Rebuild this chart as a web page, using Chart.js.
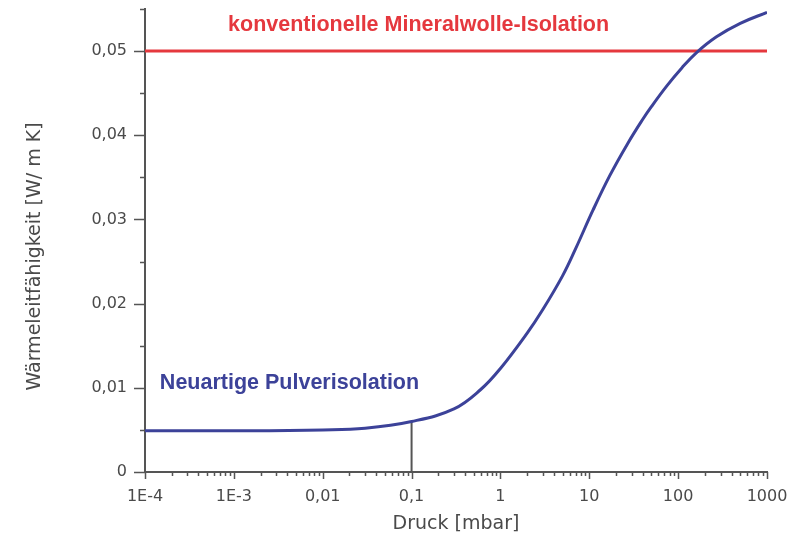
<!DOCTYPE html>
<html lang="de">
<head>
<meta charset="utf-8">
<title>Wärmeleitfähigkeit über Druck</title>
<script src="https://cdn.jsdelivr.net/npm/chart.js@4.4.1/dist/chart.umd.min.js"></script>
<style>
  html, body { margin: 0; padding: 0; background: #fff; }
  #wrap { width: 801px; height: 545px; }
</style>
</head>
<body>
<div id="wrap"><canvas id="myChart"></canvas></div>
<script>
// pressure in mbar and thermal conductivity in W/mK
const druck = [1e-4, 1e-3, 0.01, 0.03, 0.1, 0.3, 0.6, 1, 2, 3, 5, 7, 11, 17, 27, 40, 50, 75, 110, 160, 270, 500, 1000];
const pulver = [0.0049, 0.0049, 0.0050, 0.0052, 0.0060, 0.0075, 0.0098, 0.0123, 0.0165, 0.0193, 0.0233, 0.0265, 0.0311, 0.0352, 0.0390, 0.0419, 0.0434, 0.0459, 0.0480, 0.0498, 0.0517, 0.0533, 0.0546];
const mineralwolle = 0.05;
const markDruck = 0.1;

const dekaden = [1e-4, 1e-3, 0.01, 0.1, 1, 10, 100, 1000];
const dekadenLabels = ["1E-4", "1E-3", "0,01", "0,1", "1", "10", "100", "1000"];

// label texts, anchored in data units (left edge, vertical middle)
const labelTexts = ["konventionelle Mineralwolle-Isolation", "Neuartige Pulverisolation"];
const labelDruck = [8.6e-4, 1.47e-4];
const labelWert = [0.0531, 0.0106];
const labelColors = ["#e5383e", "#3c4299"];

const axisColor = "#555555";
const textColor = "#4a4a4a";

// decade ticks plus 2..9 in between
function logTicks() {
  const out = [];
  dekaden.forEach((d, i) => {
    out.push({ value: d, major: true });
    if (i < dekaden.length - 1) {
      for (let k = 2; k <= 9; k++) out.push({ value: d * k, major: false });
    }
  });
  return out;
}

const extras = {
  id: "extras",
  afterDraw(chart) {
    const { ctx, scales: { x, y } } = chart;
    ctx.save();
    // tick marks
    ctx.strokeStyle = axisColor;
    ctx.lineWidth = 1.5;
    ctx.beginPath();
    x.ticks.forEach((t) => {
      const px = Math.round(x.getPixelForValue(t.value)) + 0.5;
      const len = t.label !== "" ? 7 : 4;
      ctx.moveTo(px, x.top);
      ctx.lineTo(px, x.top + len);
    });
    y.ticks.forEach((t) => {
      const py = Math.round(y.getPixelForValue(t.value)) + 0.5;
      const len = t.label !== "" ? 11 : 5;
      ctx.moveTo(y.right, py);
      ctx.lineTo(y.right - len, py);
    });
    ctx.stroke();

    // y axis title
    ctx.fillStyle = textColor;
    ctx.font = "19px 'DejaVu Sans'";
    ctx.textAlign = "center";
    ctx.textBaseline = "middle";
    ctx.translate(35, (y.top + y.bottom) / 2 + 16);
    ctx.rotate(-Math.PI / 2);
    ctx.fillText("Wärmeleitfähigkeit [W/ m K]", 0, 0);
    ctx.restore();

    // curve labels
    ctx.save();
    ctx.font = "bold 21.5px 'Liberation Sans'";
    ctx.textAlign = "left";
    ctx.textBaseline = "middle";
    labelTexts.forEach((txt, i) => {
      ctx.fillStyle = labelColors[i];
      ctx.fillText(txt, x.getPixelForValue(labelDruck[i]), y.getPixelForValue(labelWert[i]));
    });
    ctx.restore();
  },
};

const curve = druck.map((p, i) => ({ x: p, y: pulver[i] }));
const markWert = pulver[druck.indexOf(markDruck)];

new Chart("myChart", {
  type: "line",
  data: {
    datasets: [
      {
        data: [{ x: markDruck, y: 0 }, { x: markDruck, y: markWert }],
        borderColor: "#555555",
        borderWidth: 2,
        pointRadius: 0,
        order: 3,
      },
      {
        data: [{ x: dekaden[0], y: mineralwolle }, { x: dekaden[dekaden.length - 1], y: mineralwolle }],
        borderColor: "#e5383e",
        borderWidth: 3,
        pointRadius: 0,
        order: 2,
      },
      {
        data: curve,
        borderColor: "#3c4299",
        borderWidth: 3,
        pointRadius: 0,
        tension: 0.4,
        order: 1,
      },
    ],
  },
  options: {
    responsive: true,
    maintainAspectRatio: false,
    animation: false,
    layout: { padding: { top: 9, right: 34, left: 0, bottom: 0 } },
    plugins: { legend: { display: false }, tooltip: { enabled: false } },
    scales: {
      x: {
        type: "logarithmic",
        min: 1e-4,
        max: 1000,
        afterBuildTicks: (scale) => { scale.ticks = logTicks(); },
        afterFit: (scale) => {
          scale.height = 73;
          scale.paddingLeft = 0;
          scale.paddingRight = 0;
        },
        grid: { display: false },
        border: { color: axisColor, width: 2 },
        ticks: {
          autoSkip: false,
          maxRotation: 0,
          padding: 7,
          color: textColor,
          font: { family: "DejaVu Sans", size: 16 },
          callback: (v) => {
            const i = dekaden.indexOf(v);
            return i >= 0 ? dekadenLabels[i] : "";
          },
        },
        title: {
          display: true,
          text: "Druck [mbar]",
          color: textColor,
          font: { family: "DejaVu Sans", size: 19 },
          padding: { top: 0, bottom: 10 },
        },
      },
      y: {
        min: 0,
        max: 0.055,
        afterFit: (scale) => {
          scale.width = 145;
          scale.paddingTop = 0;
          scale.paddingBottom = 0;
        },
        grid: { display: false },
        border: { color: axisColor, width: 2 },
        ticks: {
          stepSize: 0.005,
          autoSkip: false,
          padding: 10,
          color: textColor,
          font: { family: "DejaVu Sans", size: 16 },
          callback: (v) => {
            const m = Math.round(v * 1000);
            if (m % 10 !== 0) return "";
            return m === 0 ? "0" : (m / 1000).toFixed(2).replace(".", ",");
          },
        },
      },
    },
  },
  plugins: [extras],
});
</script>
</body>
</html>
